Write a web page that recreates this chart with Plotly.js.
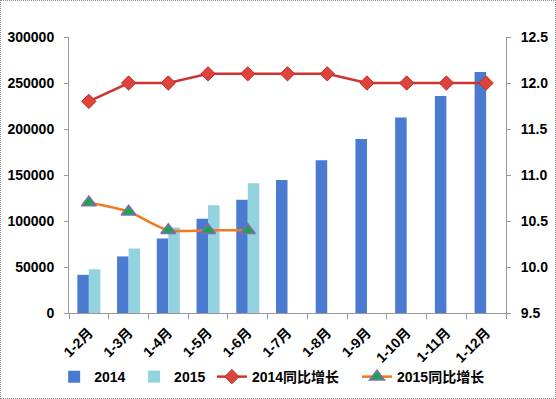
<!DOCTYPE html>
<html>
<head>
<meta charset="utf-8">
<script src="https://cdn.plot.ly/plotly-3.0.1.min.js"></script>
<style>
html,body{margin:0;padding:0;background:#fff;overflow:hidden;}
#wrap{position:relative;width:556px;height:399px;}
#chart{width:556px;height:399px;}
#frame{position:absolute;left:0;top:0;width:554px;height:397px;border:1px dotted #888;pointer-events:none;}
</style>
</head>
<body>
<div id="wrap"><div id="chart"></div><div id="frame"></div></div>
<script>
const categories = ['1-2月','1-3月','1-4月','1-5月','1-6月','1-7月','1-8月','1-9月','1-10月','1-11月','1-12月'];
const values2014 = [41500, 61500, 81000, 102500, 123000, 144500, 166000, 189000, 212500, 236000, 262000];
const values2015 = [47500, 70000, 93000, 117000, 141000];
const growth2014 = [11.8, 12.0, 12.0, 12.1, 12.1, 12.1, 12.1, 12.0, 12.0, 12.0, 12.0];
const growth2015 = [10.7, 10.6, 10.4, 10.4, 10.4];
const leftTicks = [0, 50000, 100000, 150000, 200000, 250000, 300000];
const rightTicks = [9.5, 10.0, 10.5, 11.0, 11.5, 12.0, 12.5];

const fam = '"Liberation Sans", "Noto Sans CJK SC", sans-serif';
const traces = [
  {type:'bar', name:'2014', x:categories, y:values2014, legend:'legend',
   marker:{color:'#4a7bd0', line:{width:0}}},
  {type:'bar', name:'2015', x:categories.slice(0, values2015.length), y:values2015, legend:'legend2',
   marker:{color:'#93d2df', line:{width:0}}},
  {type:'scatter', mode:'lines+markers', name:'2014同比增长', x:categories, y:growth2014, yaxis:'y2', legend:'legend3',
   line:{color:'#cc3530', width:2.5},
   marker:{symbol:'diamond', size:11, color:'#de433c', line:{color:'#bb2e2a', width:1}}},
  {type:'scatter', mode:'lines+markers', name:'2015同比增长', x:categories.slice(0, growth2015.length), y:growth2015, yaxis:'y2', legend:'legend4',
   line:{color:'#f07a1e', width:2.5, shape:'spline', smoothing:0.8},
   marker:{symbol:'triangle-up', size:13, color:'#17a84a', line:{color:'#8a68b8', width:1.5}}}
];

function leg(x){
  return {orientation:'h', x:x, xanchor:'left', y:-0.232, yanchor:'middle',
          bgcolor:'rgba(0,0,0,0)', font:{family:fam, size:14, color:'#000', weight:'bold'}};
}

const layout = {
  width:556, height:399,
  margin:{l:69, r:50, t:37, b:86, autoexpand:false},
  paper_bgcolor:'#fff', plot_bgcolor:'#fff',
  barmode:'group', bargap:0.42, bargroupgap:0,
  font:{family:fam, size:14, color:'#000'},
  showlegend:true,
  legend:leg(-0.034), legend2:leg(0.149), legend3:leg(0.327), legend4:leg(0.659),
  xaxis:{type:'category', range:[-0.5, categories.length - 0.5], tickangle:-45,
         showgrid:false, zeroline:false, automargin:false,
         showline:true, linecolor:'#999', linewidth:1,
         ticks:'outside', tickson:'boundaries', ticklen:5, tickcolor:'#999', ticklabelstandoff:5,
         tickfont:{family:fam, size:14, color:'#000', weight:'bold'}},
  yaxis:{range:[0,300000], tickvals:leftTicks, ticktext:leftTicks.map(String), automargin:false,
         showgrid:false, zeroline:false, showline:true, linecolor:'#999', linewidth:1,
         ticks:'outside', ticklen:4, tickcolor:'#999', ticklabelstandoff:7,
         tickfont:{family:fam, size:14, color:'#000', weight:'bold'}},
  yaxis2:{range:[9.5,12.5], overlaying:'y', side:'right', tickvals:rightTicks, automargin:false,
          ticktext:rightTicks.map(v=>v.toFixed(1)),
          showgrid:false, zeroline:false, showline:true, linecolor:'#999', linewidth:1,
          ticks:'outside', ticklen:4, tickcolor:'#999', ticklabelstandoff:7,
          tickfont:{family:fam, size:14, color:'#000', weight:'bold'}}
};

Plotly.newPlot('chart', traces, layout, {displayModeBar:false, staticPlot:true});
</script>
</body>
</html>
